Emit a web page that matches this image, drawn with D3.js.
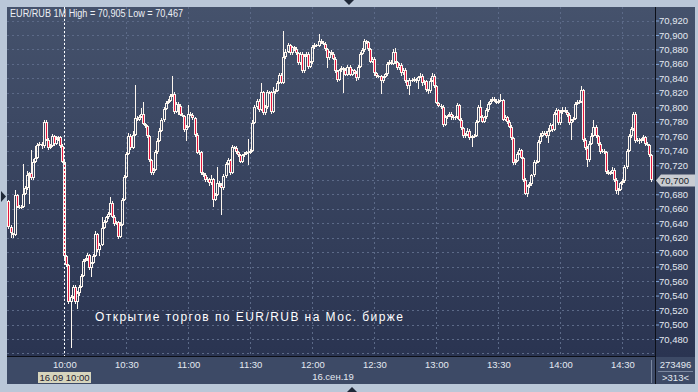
<!DOCTYPE html>
<html>
<head>
<meta charset="utf-8">
<script src="https://cdnjs.cloudflare.com/ajax/libs/d3/7.8.5/d3.min.js"></script>
<style>
body { margin: 0; background: #bac7d8; }
svg text { font-family: "Liberation Sans", Arial, sans-serif; }
</style>
</head>
<body>
<div id="chart"></div>
<script>
// EUR/RUB 1 minute candles, 16.09.19
var startTime = "09:33";
var firstOpen = 70.670;

var closes = [
	70.635, 70.626, 70.624, 70.679, 70.663, 70.661, 70.663, 70.681, 70.688, 70.707,
	70.709, 70.702, 70.725, 70.730, 70.748, 70.750, 70.746, 70.780, 70.755, 70.744,
	70.747, 70.760, 70.750, 70.756, 70.759, 70.747, 70.725, 70.594, 70.582, 70.531,
	70.538, 70.552, 70.531, 70.543, 70.552, 70.567, 70.588, 70.590, 70.596, 70.578,
	70.585, 70.595, 70.625, 70.603, 70.610, 70.634, 70.642, 70.648, 70.653, 70.668,
	70.649, 70.639, 70.641, 70.621, 70.638, 70.672, 70.704, 70.736, 70.761, 70.744,
	70.762, 70.785, 70.783, 70.787, 70.791, 70.777, 70.774, 70.760, 70.727, 70.709,
	70.714, 70.738, 70.754, 70.768, 70.782, 70.798, 70.806, 70.809, 70.816, 70.819,
	70.794, 70.805, 70.802, 70.790, 70.788, 70.769, 70.773, 70.791, 70.790, 70.785,
	70.762, 70.737, 70.738, 70.709, 70.707, 70.699, 70.701, 70.695, 70.701, 70.672,
	70.679, 70.696, 70.693,
	70.688, 70.705, 70.722, 70.727, 70.710, 70.745, 70.744, 70.738, 70.734, 70.725,
	70.734, 70.736, 70.738, 70.737, 70.740, 70.779, 70.800, 70.809, 70.797, 70.821,
	70.792, 70.800, 70.821, 70.821, 70.794, 70.821, 70.823, 70.834, 70.845, 70.834,
	70.869, 70.877, 70.886, 70.875, 70.883, 70.880, 70.875, 70.861, 70.874, 70.850,
	70.871, 70.874, 70.856, 70.862, 70.883, 70.886, 70.885, 70.891, 70.889, 70.888,
	70.880, 70.868, 70.876, 70.874, 70.867, 70.850, 70.838, 70.851, 70.854, 70.852,
	70.845, 70.856, 70.845, 70.851, 70.848, 70.840, 70.856, 70.874, 70.879, 70.891,
	70.890, 70.880, 70.863, 70.867, 70.847, 70.843, 70.843, 70.836, 70.842, 70.846,
	70.860, 70.863, 70.860, 70.877, 70.862, 70.854, 70.859, 70.847, 70.852, 70.836,
	70.829, 70.838, 70.837, 70.839, 70.836, 70.842, 70.844, 70.833, 70.836, 70.824,
	70.822, 70.837, 70.844,
	70.829, 70.806, 70.802, 70.801, 70.776, 70.786, 70.788, 70.791, 70.786, 70.785,
	70.786, 70.803, 70.783, 70.771, 70.760, 70.762, 70.768, 70.757, 70.760, 70.761,
	70.780, 70.800, 70.787, 70.780, 70.786, 70.796, 70.805, 70.809, 70.812, 70.809,
	70.806, 70.809, 70.810, 70.783, 70.786, 70.780, 70.773, 70.757, 70.723, 70.726,
	70.736, 70.741, 70.730, 70.700, 70.681, 70.691, 70.694, 70.706, 70.724, 70.725,
	70.752, 70.761, 70.765, 70.764, 70.760, 70.768, 70.775, 70.769, 70.791, 70.796,
	70.778, 70.793, 70.797, 70.794, 70.790, 70.778, 70.782, 70.784, 70.805, 70.807,
	70.808, 70.824, 70.755, 70.744, 70.727, 70.750, 70.761, 70.773, 70.760, 70.750,
	70.739, 70.740, 70.738, 70.711, 70.708, 70.710, 70.714, 70.700, 70.684, 70.686,
	70.695, 70.698, 70.717, 70.740, 70.760, 70.770, 70.791, 70.754, 70.755, 70.753,
	70.756, 70.759, 70.750, 70.748, 70.734, 70.700
];

// shadow above / below the body, in thousandths
var wickUp = [
	2,2,1,7,2,2,2,41,3,5, 2,32,3,16,3,2,2,3,3,2, 2,3,2,5,2,2,2,2,2,2,
	3,3,2,3,3,3,2,2,3,2, 2,3,4,2,2,15,3,2,2,8, 2,2,2,2,3,3,3,3,3,2,
	6,46,3,3,8,17,2,2,2,2, 2,3,3,3,3,3,3,2,3,24, 2,3,2,2,2,2,2,12,2,2,
	2,2,3,2,2,2,3,2,5,2, 3,22,2,
	2,3,3,3,2,3,2,2,2,2, 2,2,2,18,2,3,3,3,2,13, 2,3,3,2,2,7,2,2,3,2,
	36,3,3,2,2,2,3,2,3,2, 3,3,2,2,3,3,2,10,3,2, 2,2,2,3,2,2,2,2,3,2,
	2,3,2,2,2,2,3,3,3,3, 2,2,2,2,2,2,2,2,2,2, 3,3,2,3,5,2,2,2,2,2,
	2,2,2,3,2,2,3,2,2,2, 2,3,3,
	2,2,2,2,2,3,2,2,2,3, 2,3,2,2,2,2,3,2,2,2, 3,3,10,2,2,3,3,3,3,2,
	3,2,9,2,3,2,2,2,2,2, 3,3,2,2,2,2,3,2,3,2, 3,3,3,2,3,3,3,2,3,3,
	2,3,3,3,2,2,2,3,2,3, 2,5,2,2,2,3,3,10,2,2, 2,3,2,2,3,2,3,2,2,2,
	2,3,3,3,3,3,2,2,3,2, 2,3,2,2,2,2
];
var wickDown = [
	3,7,5,2,2,2,2,2,2,2, 41,2,3,2,2,2,3,2,2,3, 2,2,3,2,2,3,2,3,3,3,
	64,3,3,9,3,2,2,2,2,3, 12,2,2,3,9,2,2,2,2,2, 2,3,2,3,2,2,2,2,2,3,
	2,2,2,2,2,2,3,2,2,3, 2,2,2,2,2,2,2,2,2,2, 3,2,12,2,2,3,16,2,2,2,
	3,2,3,3,3,2,2,3,2,9, 2,2,3,
	37,2,2,2,3,2,2,3,2,2, 2,2,2,16,2,2,2,2,3,2, 3,2,2,2,3,2,2,2,2,2,
	2,2,2,2,2,2,2,2,2,3, 2,2,3,2,2,2,2,2,2,2, 2,14,2,2,2,3,3,2,2,32,
	2,2,2,2,2,3,2,2,2,2, 2,2,2,2,3,3,3,18,2,2, 2,2,2,2,2,3,2,3,2,3,
	3,12,2,2,3,11,2,3,2,3, 3,2,2,
	2,2,2,3,3,2,2,2,3,2, 3,2,2,2,2,3,2,2,12,2, 2,2,2,2,2,2,2,2,2,2,
	2,2,2,2,2,3,2,2,2,2, 2,2,2,3,2,5,2,2,2,2, 2,2,2,2,2,9,2,3,2,2,
	3,2,2,2,3,2,23,2,2,2, 2,2,3,3,9,2,2,2,2,3, 3,2,2,3,2,2,2,3,3,5,
	2,2,2,2,2,2,2,3,2,3, 2,2,3,2,3,3
];

var timeTicks = ["10:00", "10:30", "11:00", "11:30", "12:00", "12:30", "13:00", "13:30", "14:00", "14:30"];
var priceTicks = [70.48, 70.50, 70.52, 70.54, 70.56, 70.58, 70.60, 70.62, 70.64, 70.66, 70.68, 70.70,
	70.72, 70.74, 70.76, 70.78, 70.80, 70.82, 70.84, 70.86, 70.88, 70.90, 70.92];
var gridExtra = [70.46];
var lastPrice = 70.700;
var crossTime = "10:00";

var W = 698, H = 392;
var plotL = 7, plotT = 7, plotR = 655, plotB = 357, panelR = 695, bottomB = 384;

var parseTime = d3.timeParse("%H:%M");
var t0 = parseTime(startTime);

var candles = closes.map(function(c, i){
	var o = i == 0 ? firstOpen : closes[i - 1];
	return {
		t: d3.timeMinute.offset(t0, i),
		o: o, c: c,
		h: Math.max(o, c) + (wickUp[i] || 0) / 1000,
		l: Math.min(o, c) - (wickDown[i] || 0) / 1000
	};
});

var x = d3.scaleTime()
	.domain([parseTime("10:00"), parseTime("14:30")])
	.range([64.3, 622.4]);
var y = d3.scaleLinear()
	.domain([70.48, 70.92])
	.range([339, 20.5]);

var svg = d3.select("#chart").append("svg")
	.attr("width", W)
	.attr("height", H);

var defs = svg.append("defs");
var grad = defs.append("linearGradient")
	.attr("id", "bg").attr("x1", 0).attr("y1", 0).attr("x2", 0).attr("y2", 1);
grad.append("stop").attr("offset", "0%").attr("stop-color", "#45526c");
grad.append("stop").attr("offset", "100%").attr("stop-color", "#2a3451");
defs.append("clipPath").attr("id", "plotclip")
	.append("rect").attr("x", plotL).attr("y", plotT)
	.attr("width", plotR - plotL).attr("height", plotB - plotT);

//backgrounds
svg.append("rect").attr("width", W).attr("height", H).attr("fill", "#bac7d8");
svg.append("rect")
	.attr("x", plotL).attr("y", plotT)
	.attr("width", panelR - plotL).attr("height", plotB - plotT)
	.attr("fill", "url(#bg)");
svg.append("rect")
	.attr("x", plotL).attr("y", plotB)
	.attr("width", panelR - plotL).attr("height", bottomB - plotB)
	.attr("fill", "#3d4a66");

//grid
var grid = svg.append("g");
grid.selectAll(".hgrid")
	.data(priceTicks.concat(gridExtra))
	.enter().append("line")
		.attr("x1", plotL).attr("x2", plotR)
		.attr("y1", function(d){return Math.round(y(d)) + 0.5;})
		.attr("y2", function(d){return Math.round(y(d)) + 0.5;})
		.attr("stroke", "#5c6a88")
		.attr("stroke-dasharray", "2,3");
grid.selectAll(".vgrid")
	.data(timeTicks)
	.enter().append("line")
		.attr("x1", function(d){return Math.round(x(parseTime(d))) + 0.5;})
		.attr("x2", function(d){return Math.round(x(parseTime(d))) + 0.5;})
		.attr("y1", plotT).attr("y2", plotB)
		.attr("stroke", "#5c6a88")
		.attr("stroke-dasharray", "2,3");

//candles
var plot = svg.append("g").attr("clip-path", "url(#plotclip)");
var cg = plot.selectAll(".candle")
	.data(candles)
	.enter().append("g")
		.attr("class", "candle");

function px(d){ return Math.round(x(d.t)); }
function bodyTop(d){ return Math.round(y(Math.max(d.o, d.c))); }
function bodyBot(d){ return Math.max(Math.round(y(Math.min(d.o, d.c))), bodyTop(d) + 1); }

cg.append("path")
	.attr("d", function(d){
		var cx = px(d) + 0.5;
		return "M" + cx + "," + Math.round(y(d.h)) + "V" + bodyTop(d) +
			"M" + cx + "," + bodyBot(d) + "V" + Math.round(y(d.l));
	})
	.attr("stroke", "#fdf6ee")
	.attr("fill", "none");
cg.append("rect")
	.attr("x", function(d){return px(d) - 0.5;})
	.attr("y", function(d){return bodyTop(d) + 0.5;})
	.attr("width", 2)
	.attr("height", function(d){return bodyBot(d) - bodyTop(d) - 1 > 0 ? bodyBot(d) - bodyTop(d) - 1 : 0.01;})
	.attr("fill", function(d){return d.c < d.o ? "#e3173f" : "none";})
	.attr("stroke", "#fdf6ee");

//crosshair at market open
var cx0 = Math.round(x(parseTime(crossTime))) + 0.5;
svg.append("line")
	.attr("x1", cx0).attr("x2", cx0)
	.attr("y1", plotT).attr("y2", plotB)
	.attr("stroke", "#ffffff")
	.attr("stroke-dasharray", "2,2");

//separators
svg.append("line")
	.attr("x1", plotR + 0.5).attr("x2", plotR + 0.5)
	.attr("y1", plotT).attr("y2", bottomB)
	.attr("stroke", "#0c0f18");
svg.append("line")
	.attr("x1", plotL).attr("x2", plotR)
	.attr("y1", plotB - 0.5).attr("y2", plotB - 0.5)
	.attr("stroke", "#0c0f18");
svg.append("line")
	.attr("x1", 651.5).attr("x2", 651.5)
	.attr("y1", 360).attr("y2", 383)
	.attr("stroke", "#7b88a0");
svg.append("line")
	.attr("x1", 658).attr("x2", 693)
	.attr("y1", 371.5).attr("y2", 371.5)
	.attr("stroke", "#7b88a0");

//y axis
var fmt = d3.format(".3f");
var yAxis = svg.append("g")
	.attr("transform", "translate(" + (plotR + 1) + ",0)")
	.call(d3.axisRight(y)
		.tickValues(priceTicks)
		.tickSize(3)
		.tickPadding(0)
		.tickFormat(function(d){return fmt(d).replace(".", ",");}));
yAxis.select(".domain").remove();
yAxis.selectAll("line").attr("stroke", "#7fa3d6");
yAxis.selectAll("text")
	.attr("x", 3)
	.attr("fill", "#e4e9f1")
	.attr("font-size", "9.5px");

//x axis
var xAxis = svg.append("g")
	.attr("transform", "translate(0," + plotB + ")")
	.call(d3.axisBottom(x)
		.tickValues(timeTicks.map(parseTime))
		.tickSize(0)
		.tickPadding(4)
		.tickFormat(d3.timeFormat("%H:%M")));
xAxis.select(".domain").remove();
xAxis.selectAll("text")
	.attr("fill", "#e4e9f1")
	.attr("font-size", "9.5px");

svg.append("text")
	.attr("x", 333).attr("y", 380)
	.attr("text-anchor", "middle")
	.attr("fill", "#e4e9f1")
	.attr("font-size", "9.5px")
	.text("16.сен.19");

//crosshair date box
svg.append("rect")
	.attr("x", 38).attr("y", 372).attr("width", 53).attr("height", 11)
	.attr("fill", "#d7d5bd");
svg.append("text")
	.attr("x", 64.5).attr("y", 381)
	.attr("text-anchor", "middle")
	.attr("fill", "#1d2230")
	.attr("font-size", "9.5px")
	.text("16.09 10:00");

//bars counter
svg.append("text")
	.attr("x", 675.5).attr("y", 368)
	.attr("text-anchor", "middle")
	.attr("fill", "#e4e9f1")
	.attr("font-size", "9.5px")
	.text("273496");
svg.append("text")
	.attr("x", 675.5).attr("y", 381)
	.attr("text-anchor", "middle")
	.attr("fill", "#e4e9f1")
	.attr("font-size", "9.5px")
	.text(">313<");

//last price marker
var ly = Math.round(y(lastPrice));
svg.append("path")
	.attr("d", "M656," + (ly + 0.5) + "L661," + (ly - 5.5) + "H695V" + (ly + 6.5) + "H661Z")
	.attr("fill", "#c9ccd2");
svg.append("text")
	.attr("x", 660).attr("y", ly + 4)
	.attr("fill", "#1a1e2a")
	.attr("font-size", "9.5px")
	.text(fmt(lastPrice).replace(".", ","));

//title
svg.append("text")
	.attr("x", 10).attr("y", 17)
	.attr("fill", "#eceff4")
	.attr("font-size", "10px")
	.attr("textLength", 173)
	.attr("lengthAdjust", "spacingAndGlyphs")
	.text("EUR/RUB 1M High = 70,905 Low = 70,467");

//annotation
svg.append("text")
	.attr("x", 95).attr("y", 321)
	.attr("fill", "#ffffff")
	.attr("font-family", "DejaVu Sans")
	.attr("font-size", "12px")
	.attr("textLength", 308)
	.attr("lengthAdjust", "spacing")
	.text("Открытие торгов по EUR/RUB на Мос. бирже");

//scroll markers
svg.append("path").attr("d", "M344,0H354L349,5Z").attr("fill", "#1f2838");
svg.append("path").attr("d", "M347,392H357L352,387Z").attr("fill", "#1f2838");
svg.append("path").attr("d", "M1,191V202L6,196.5Z").attr("fill", "#1f2838");
</script>
</body>
</html>
